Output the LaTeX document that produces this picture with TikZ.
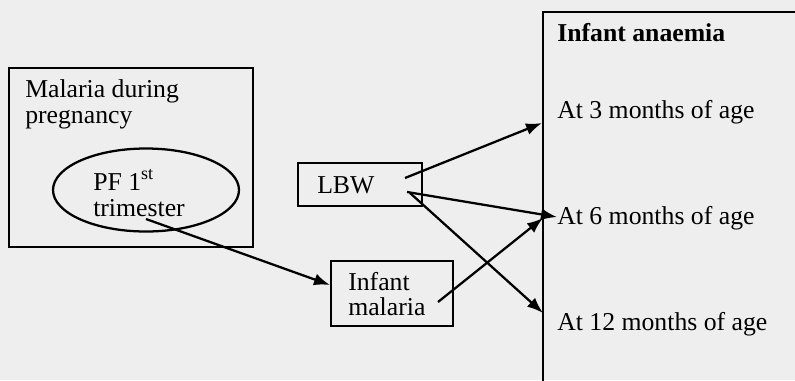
\documentclass[tikz,border=0pt]{standalone}
\usepackage{fontspec}
\setmainfont{Liberation Serif}
\usetikzlibrary{shapes.geometric,arrows.meta,calc}
\definecolor{bgc}{RGB}{238,238,238}
\begin{document}
\begin{tikzpicture}[x=0.75pt,y=-0.75pt,
  box/.style={draw=black,line width=1.7pt,rectangle,inner sep=0pt},
  txt/.style={inner sep=0pt,font=\fontsize{19.3}{19.5}\selectfont,align=left},
  conn/.style={line width=1.7pt,-{Latex[length=12pt,width=9pt]}}]
\fill[bgc] (0,0) rectangle (795,380);
\useasboundingbox (0,0) rectangle (795,380);
% left box
\node[box,minimum width=244*0.75pt,minimum height=179*0.75pt] (mal) at (131,157.5) {};
\node[txt,anchor=base west] (malt) at (25,97) {Malaria during};
\node[txt,anchor=base west] (malt2) at (25,123) {pregnancy};
\node[box,ellipse,minimum width=186*0.75pt,minimum height=83*0.75pt] (pf) at (146,190) {};
\node[txt,anchor=base west] (pft) at (93,190) {PF 1\textsuperscript{st}};
\node[txt,anchor=base west] (pft2) at (93,216) {trimester};
% LBW
\node[box,minimum width=124*0.75pt,minimum height=43*0.75pt] (lbw) at (360,184.5) {};
\node[txt,anchor=base west] (lbwt) at (317,193) {LBW};
% infant malaria
\node[box,minimum width=122*0.75pt,minimum height=65*0.75pt] (im) at (392,293.5) {};
\node[txt,anchor=base west] (imt) at (348,290) {Infant};
\node[txt,anchor=base west] (imt2) at (348,315) {malaria};
% anaemia box
\draw[line width=1.7pt] (543,385) -- (543,12) -- (800,12);
\node[txt,anchor=base west,font=\fontsize{19.3}{19.5}\selectfont\bfseries] (ia) at (557,41) {Infant anaemia};
\node[txt,anchor=base west] (a3) at (557,118) {At 3 months of age};
\node[txt,anchor=base west] (a6) at (557,224) {At 6 months of age};
\node[txt,anchor=base west] (a12) at (557,330) {At 12 months of age};
% coordinates
\coordinate (pfs) at (146,219);
\coordinate (ims) at (330,285);
\coordinate (l1) at (405,178);
\coordinate (l2) at (407,192);
\coordinate (l3) at (410,193);
\coordinate (im1) at (438,302);
\coordinate (e3) at (542,123);
\coordinate (e6) at (557,217);
\coordinate (e6b) at (543,218);
\coordinate (e12) at (543,313);
% connectors
\draw[conn] (pfs) -- (ims);
\draw[conn] (l1) -- (e3);
\draw[conn] (l2) -- (e6);
\draw[conn] (l3) -- (e12);
\draw[conn] (im1) -- (e6b);
\end{tikzpicture}
\end{document}
